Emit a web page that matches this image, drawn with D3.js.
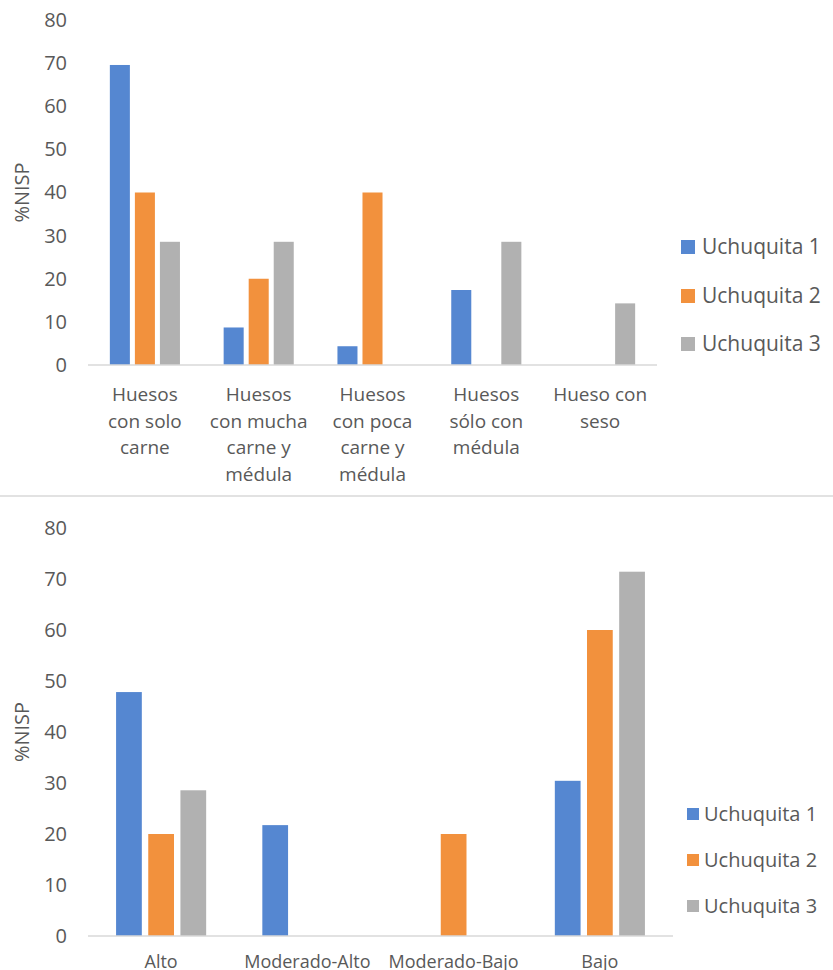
<!DOCTYPE html>
<html>
<head>
<meta charset="utf-8">
<script src="https://cdn.jsdelivr.net/npm/d3@7"></script>
<style>
  html, body { margin: 0; padding: 0; background: #fff; }
  svg { display: block; }
  text { font-family: "Open Sans", Lato, sans-serif; fill: #595959; }
</style>
</head>
<body>
<svg id="chart" width="833" height="970"></svg>
<script>
// Series shown in both panels
const series = ["Uchuquita 1", "Uchuquita 2", "Uchuquita 3"];
const seriesColors = ["#5587D1", "#F2913D", "#B1B1B1"];

// Panel 1: anatomical utility of bones (line breaks as printed)
const categoriesTop = [
  "Huesos\ncon solo\ncarne",
  "Huesos\ncon mucha\ncarne y\nmédula",
  "Huesos\ncon poca\ncarne y\nmédula",
  "Huesos\nsólo con\nmédula",
  "Hueso con\nseso"
];
const u1Top = [69.57, 8.70, 4.35, 17.39, 0];
const u2Top = [40, 20, 40, 0, 0];
const u3Top = [28.57, 28.57, 0, 28.57, 14.29];

// Panel 2: utility rank
const categoriesBottom = ["Alto", "Moderado-Alto", "Moderado-Bajo", "Bajo"];
const u1Bottom = [47.83, 21.74, 0, 30.43];
const u2Bottom = [20, 0, 20, 60];
const u3Bottom = [28.57, 0, 0, 71.43];

const yTicks = [0, 10, 20, 30, 40, 50, 60, 70, 80];
const yTitle = "%NISP";

const svg = d3.select("#chart");

function drawPanel(cfg) {
  const g = svg.append("g");
  const values = [cfg.u1, cfg.u2, cfg.u3];

  const y = d3.scaleLinear().domain([0, 80]).range([cfg.y0, cfg.y1]);
  const x0 = d3.scaleBand().domain(cfg.categories).range([cfg.xL, cfg.xR]).padding(0);
  const bw = x0.bandwidth();
  const x1 = d3.scaleBand().domain(series)
    .range([-0.33 * bw, 0.33 * bw])
    .paddingInner(0.2).paddingOuter(0.1);

  // bars
  cfg.categories.forEach((c, ci) => {
    const cx = x0(c) + bw / 2;
    series.forEach((s, si) => {
      const v = values[si][ci];
      if (v <= 0) return;
      g.append("rect")
        .attr("x", cx + x1(s))
        .attr("width", x1.bandwidth())
        .attr("y", y(v))
        .attr("height", y(0) - y(v))
        .attr("fill", seriesColors[si]);
    });
  });

  // category axis line
  g.append("line")
    .attr("x1", cfg.xL).attr("x2", cfg.xR)
    .attr("y1", y(0)).attr("y2", y(0))
    .attr("stroke", "#D9D9D9").attr("stroke-width", 1.5);

  // value axis labels
  const yAxis = d3.axisLeft(y).tickValues(yTicks).tickSize(0).tickPadding(0);
  const ya = g.append("g").attr("transform", `translate(${cfg.tickX},0)`).call(yAxis);
  ya.select(".domain").remove();
  ya.selectAll("text")
    .style("font-family", "'Open Sans', Lato, sans-serif")
    .style("font-size", cfg.tickSize + "px")
    .attr("fill", "#595959");

  // y title
  g.append("text")
    .attr("transform", `translate(${cfg.titleX},${(cfg.y0 + cfg.y1) / 2}) rotate(-90)`)
    .attr("text-anchor", "middle")
    .attr("dy", "0.35em")
    .style("font-size", cfg.titleSize + "px")
    .text(yTitle);

  // category labels, one tspan per printed line
  g.selectAll("text.cat").data(cfg.categories).enter().append("text")
    .attr("class", "cat")
    .attr("text-anchor", "middle")
    .attr("y", cfg.labelY)
    .style("font-size", cfg.labelSize + "px")
    .each(function (d) {
      const t = d3.select(this);
      const cx = x0(d) + bw / 2;
      d.split("\n").forEach((line, i) => {
        t.append("tspan").attr("x", cx).attr("dy", i === 0 ? 0 : cfg.lineHeight).text(line);
      });
    });

  // legend
  series.forEach((s, si) => {
    const ly = cfg.legendY[si];
    g.append("rect")
      .attr("x", cfg.legendX).attr("y", ly - cfg.sw / 2)
      .attr("width", cfg.sw).attr("height", cfg.sw)
      .attr("fill", seriesColors[si]);
    g.append("text")
      .attr("x", cfg.legendX + cfg.sw + cfg.legendGap).attr("y", ly)
      .attr("dy", "0.35em")
      .style("font-size", cfg.legendSize + "px")
      .text(s);
  });
}

drawPanel({
  categories: categoriesTop, u1: u1Top, u2: u2Top, u3: u3Top,
  y0: 365, y1: 20, xL: 88, xR: 657,
  tickX: 67, tickSize: 20, titleX: 22, titleSize: 20,
  labelY: 401, labelSize: 19, lineHeight: 26.5,
  legendX: 681, legendY: [247, 296, 344], sw: 14, legendGap: 7, legendSize: 21
});

// divider between the two panels
svg.append("line")
  .attr("x1", 0).attr("x2", 833).attr("y1", 496).attr("y2", 496)
  .attr("stroke", "#D9D9D9").attr("stroke-width", 1.5);

drawPanel({
  categories: categoriesBottom, u1: u1Bottom, u2: u2Bottom, u3: u3Bottom,
  y0: 936, y1: 528, xL: 88, xR: 673,
  tickX: 67, tickSize: 20, titleX: 22, titleSize: 20,
  labelY: 968, labelSize: 18, lineHeight: 0,
  legendX: 687, legendY: [814, 860, 906], sw: 12, legendGap: 5, legendSize: 20
});
</script>
</body>
</html>
